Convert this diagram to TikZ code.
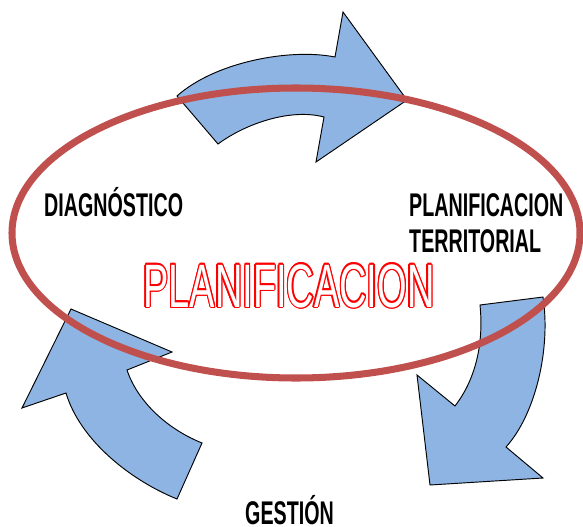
\documentclass[tikz,border=0pt]{standalone}
\usepackage{fontspec}
\newfontfamily\narrowfont[FakeStretch=0.6]{Liberation Sans}
\newfontfamily\titlefont[FakeStretch=0.62]{Liberation Sans}
\definecolor{arrowblue}{RGB}{141,180,226}
\definecolor{ringred}{RGB}{192,80,77}
\tikzset{
	bluearrow/.style={fill=arrowblue, draw=black, line width=0.8pt, line join=miter},
	steplabel/.style={font=\narrowfont\bfseries\fontsize{28}{30}\selectfont, anchor=base west, inner sep=0pt},
	titletext/.style={font=\titlefont\fontsize{52.3}{56}\selectfont, anchor=base west, inner sep=0pt}
}

\begin{document}
\begin{tikzpicture}[x=0.03cm, y=-0.03cm]
		\useasboundingbox (0,0) rectangle (583,526);
		% Draw arrows.
		\draw[bluearrow] (177,96) -- (218,144) .. controls (245,124) and (290,108) .. (324,117) -- (316,162) -- (407,100) -- (343,12) -- (335,57) .. controls (290,48) and (215,62) .. (177,96) -- cycle;
		\draw[bluearrow] (480,305) -- (543,297) .. controls (551,350) and (535,415) .. (506,447) -- (543,478) -- (430,485) -- (417,375) -- (455,406) .. controls (475,380) and (484,345) .. (480,305) -- cycle;
		\draw[bluearrow] (202,443) -- (177,499) .. controls (130,480) and (80,440) .. (66,393) -- (22,408) -- (71,309) -- (172,352) -- (127,370) .. controls (137,400) and (165,428) .. (202,443) -- cycle;
		
		% Draw ring.
		\draw[ringred, line width=6pt] (296,233) ellipse [x radius=284, y radius=145];
		
		% Labels.
		\coordinate (tpos) at (143,307);
		\node[steplabel] (diag) at (44,216) {DIAGNÓSTICO};
		\node[steplabel] (plan) at (409,216) {PLANIFICACION};
		\node[steplabel] (terr) at (409,252) {TERRITORIAL};
		\node[steplabel] (gest) at (245,524) {GESTIÓN};
		\foreach \a in {0,30,...,330}
			\node[titletext, text=red] at ([shift={(\a:1.1pt)}]tpos) {PLANIFICACION};
		\node[titletext, text=white] (title) at (tpos) {PLANIFICACION};
	\end{tikzpicture}
\end{document}
